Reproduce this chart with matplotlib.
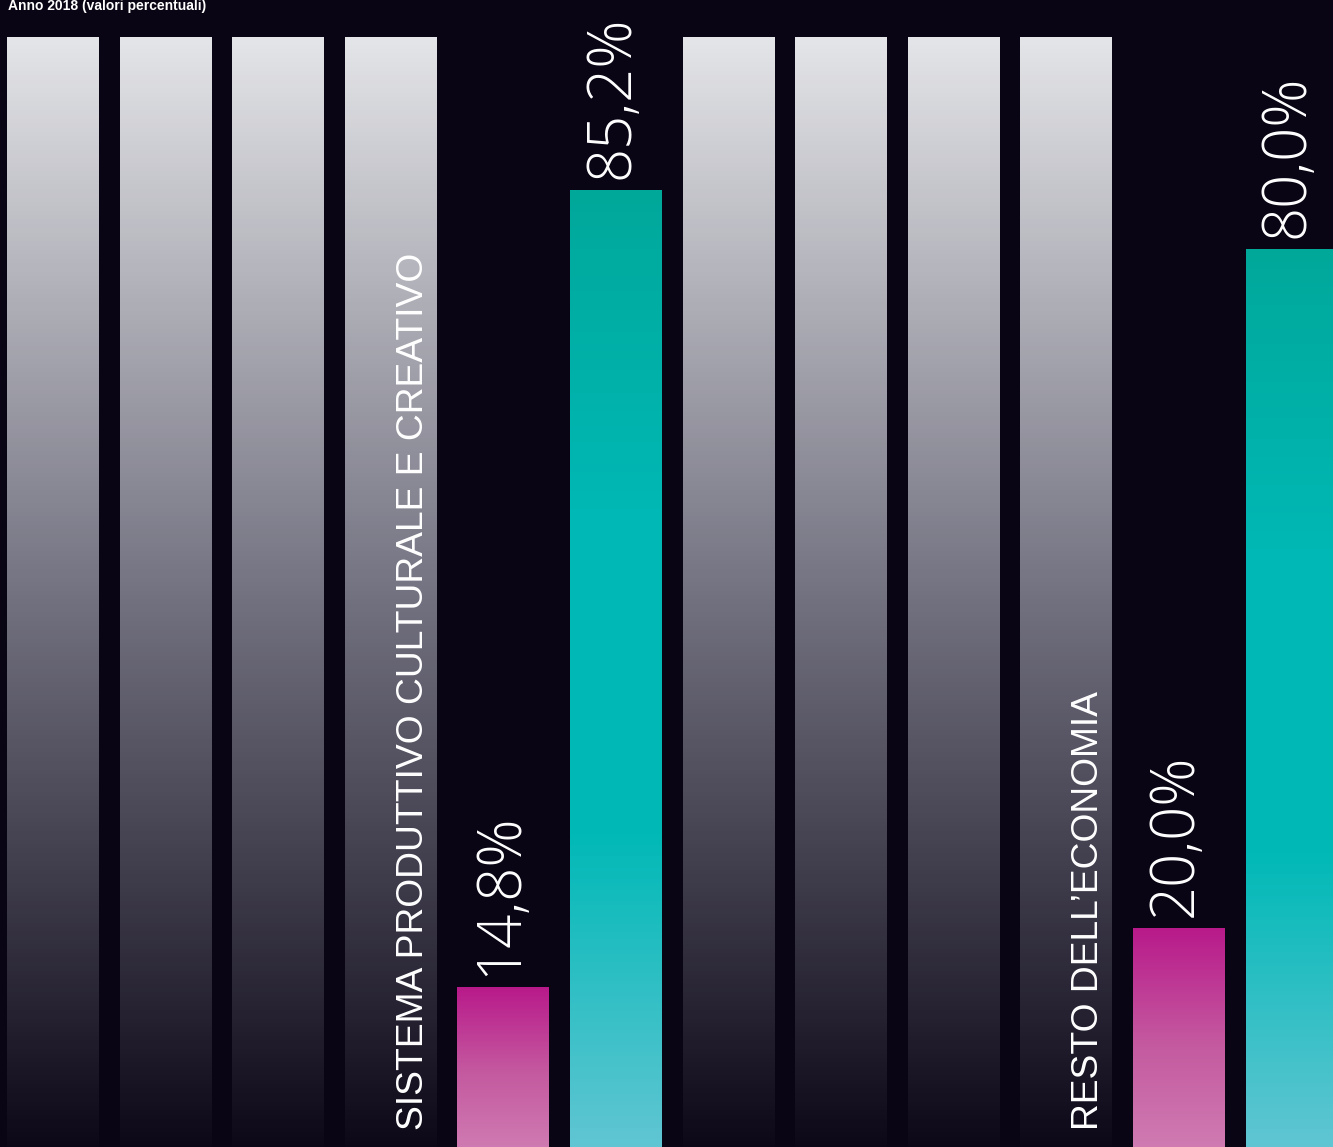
import numpy as np
import matplotlib.pyplot as plt
from matplotlib.colors import LinearSegmentedColormap

# data
title = 'Anno 2018 (valori percentuali)'
groups = ['SISTEMA PRODUTTIVO CULTURALE E CREATIVO', "RESTO DELL\u2019ECONOMIA"]
share_a = [14.8, 20.0]   # magenta bars
share_b = [85.2, 80.0]   # teal bars
value_labels_a = ['14,8%', '20,0%']
value_labels_b = ['85,2%', '80,0%']
n_tracks = 4             # decorative grey bars per group
track_height = 98.7

bg = '#0a0514'
grey_cmap = LinearSegmentedColormap.from_list('grey', ['#e4e5e8', '#737281', '#0c0716'])
mag_cmap = LinearSegmentedColormap.from_list('mag', ['#b8198a', '#c4589f', '#d07db3'])
teal_cmap = LinearSegmentedColormap.from_list('teal', ['#00a89a', '#00b8b5', '#00b9b7', '#62c6d3'])

fig = plt.figure(figsize=(13.33, 11.47), dpi=100, facecolor=bg)
ax = fig.add_axes([0, 0, 1, 1])
ax.set_facecolor(bg)
ax.set_xlim(-0.4707, 11.368)
ax.set_ylim(0.66, 102.0)
ax.axis('off')

width = 0.817
grad = np.linspace(0, 1, 256).reshape(-1, 1)


def gradient_bar(x, h, cmap):
    rect = ax.bar(x, h, width=width, bottom=0, color='none', edgecolor='none')[0]
    im = ax.imshow(grad, cmap=cmap, aspect='auto', origin='upper',
                   extent=(x - width / 2, x + width / 2, 0, h), zorder=1)
    im.set_clip_path(rect)


value_font = dict(color='white', fontsize=43, family='Open Sans', fontweight='light', zorder=3)

step = n_tracks + 2
for g, name in enumerate(groups):
    base = g * step
    for t in range(n_tracks):
        gradient_bar(base + t, track_height, grey_cmap)
    xa = base + n_tracks
    xb = base + n_tracks + 1
    gradient_bar(xa, share_a[g], mag_cmap)
    gradient_bar(xb, share_b[g], teal_cmap)

    ax.text(base + n_tracks - 1 + 0.2, 2.2, name, rotation=90, ha='center', va='bottom',
            color='white', fontsize=26.8, family='Liberation Sans', zorder=3)
    ax.text(xa - 0.03, share_a[g] + 1.0, value_labels_a[g], rotation=90, ha='center',
            va='bottom', **value_font)
    ax.text(xb - 0.03, share_b[g] + 1.0, value_labels_b[g], rotation=90, ha='center',
            va='bottom', **value_font)

fig.text(0.006, 1 - 10 / 1147, title, ha='left', va='baseline', color='white',
         fontsize=10, fontweight='bold', family='Liberation Sans')

fig.savefig('out.png', dpi=100, facecolor=bg)
